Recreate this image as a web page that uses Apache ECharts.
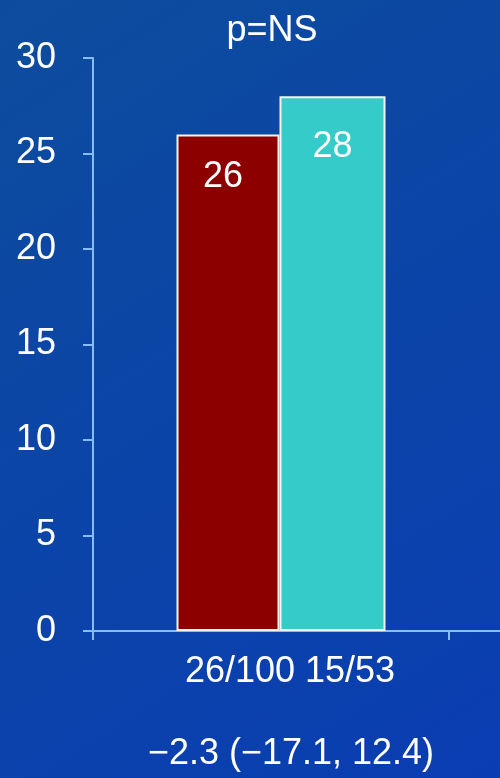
<!DOCTYPE html>
<html>
<head>
<meta charset="utf-8">
<script src="https://cdn.jsdelivr.net/npm/echarts@6/dist/echarts.min.js"></script>
<style>
  html, body { margin: 0; padding: 0; }
  #chart { width: 500px; height: 778px; }
</style>
</head>
<body>
<div id="chart"></div>
<script>
// Event rates (%) for the two groups
const categories = ['26/100 15/53'];
const groupA = [26];
const groupB = [28];
const yTicks = { min: 0, max: 30, step: 5 };
const pText = 'p=NS';
const diffText = '\u22122.3 (\u221217.1, 12.4)';

const FONT = 'Liberation Sans, Arial, sans-serif';
const FS = 36;
const AXIS_COLOR = '#86bdf2';

const chart = echarts.init(document.getElementById('chart'));

chart.setOption({
  backgroundColor: {
    type: 'linear', x: 0, y: 0, x2: 1, y2: 1,
    colorStops: [
      { offset: 0, color: '#0d4c9d' },
      { offset: 1, color: '#0a3db2' }
    ]
  },
  animation: false,
  textStyle: { fontFamily: FONT },
  grid: { left: 93, right: 51, top: 58, bottom: 147 },
  xAxis: {
    type: 'category',
    data: categories,
    axisLine: { show: true, lineStyle: { color: AXIS_COLOR, width: 2 } },
    axisTick: { show: true, length: 9, lineStyle: { color: AXIS_COLOR, width: 2 } },
    axisLabel: {
      color: '#ffffff', fontSize: FS, fontFamily: FONT,
      margin: 23, padding: [0, 0, 0, 38]
    }
  },
  yAxis: {
    type: 'value',
    min: yTicks.min, max: yTicks.max, interval: yTicks.step,
    splitLine: { show: false },
    axisLine: { show: true, lineStyle: { color: AXIS_COLOR, width: 2 } },
    axisTick: { show: true, length: 10, lineStyle: { color: AXIS_COLOR, width: 2 } },
    axisLabel: { color: '#ffffff', fontSize: FS, fontFamily: FONT, margin: 37 }
  },
  series: [
    {
      name: 'spacer', type: 'bar', barWidth: 20, barGap: 0,
      data: [null], silent: true,
      itemStyle: { color: 'transparent' }
    },
    {
      name: 'A', type: 'bar', barWidth: 103, barGap: 0,
      data: groupA,
      itemStyle: { color: '#8c0000', borderColor: '#f4f4f4', borderWidth: 2 },
      label: {
        show: true, position: 'insideTop', distance: 25,
        color: '#ffffff', fontSize: FS, fontFamily: FONT, offset: [-5, 0]
      }
    },
    {
      name: 'B', type: 'bar', barWidth: 106, barGap: 0,
      data: groupB,
      itemStyle: { color: '#34cbc8', borderColor: '#f4f4f4', borderWidth: 2 },
      label: {
        show: true, position: 'insideTop', distance: 33,
        color: '#ffffff', fontSize: FS, fontFamily: FONT
      }
    }
  ],
  graphic: [
    {
      type: 'text', x: 272, y: 31,
      style: {
        text: pText, fill: '#ffffff', font: FS + 'px ' + FONT,
        textAlign: 'center', textVerticalAlign: 'middle'
      }
    },
    {
      type: 'text', x: 291, y: 754,
      style: {
        text: diffText, fill: '#ffffff', font: FS + 'px ' + FONT,
        textAlign: 'center', textVerticalAlign: 'middle'
      }
    },
    {
      // continuation of the baseline past the last tick
      type: 'line', shape: { x1: 449, y1: 631, x2: 500, y2: 631 },
      style: { stroke: AXIS_COLOR, lineWidth: 2 }
    }
  ]
});
</script>
</body>
</html>
